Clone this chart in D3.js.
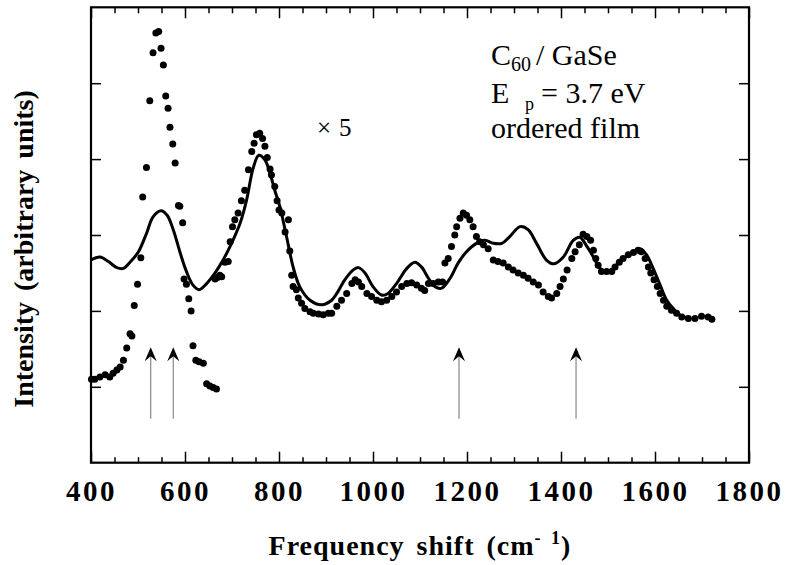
<!DOCTYPE html>
<html>
<head>
<meta charset="utf-8">
<script src="https://cdn.jsdelivr.net/npm/d3@7"></script>
<style>
  body { margin: 0; background: #fff; }
  svg text { font-family: "Liberation Serif", "Times New Roman", serif; fill: #000; }
</style>
</head>
<body>
<script>
// measured spectrum, strong mode near 540 (unscaled)
const peakShift = [401, 408, 419, 430, 440, 447, 455, 462, 469, 476, 483, 487, 492, 499, 506, 510,
  518, 525, 532, 538, 544, 549, 554, 559, 564, 568, 574, 579, 586, 589, 595, 598, 603, 608, 613,
  617, 623, 630, 639, 646, 653, 660, 667];
const peakInt = [1.10, 1.10, 1.13, 1.16, 1.13, 1.18, 1.22, 1.26, 1.35, 1.51, 1.70, 1.67, 2.07, 2.35,
  2.70, 3.50, 3.89, 4.77, 5.40, 5.66, 5.68, 5.46, 5.24, 4.83, 4.67, 4.42, 4.20, 3.95, 3.39, 3.38,
  3.16, 2.42, 2.35, 2.16, 2.00, 1.54, 1.35, 1.33, 1.31, 1.04, 1.01, 0.99, 0.97];

// measured spectrum, x5 part
const scaledShift = [664, 669, 674, 678, 685, 692, 696, 701, 706, 713, 720, 727, 735, 742, 747, 752,
  759, 765, 770, 775, 781, 784, 791, 796, 800, 806, 813, 820, 823, 827, 830, 837, 841, 848, 855,
  866, 873, 884, 894, 905, 912, 923, 933, 944, 955, 962, 969, 976, 987, 997, 1008, 1018, 1029,
  1040, 1050, 1061, 1072, 1082, 1093, 1103, 1110, 1118, 1128, 1139, 1148, 1153, 1160, 1167, 1174,
  1178, 1185, 1192, 1199, 1206, 1213, 1220, 1227, 1235, 1245, 1256, 1266, 1277, 1288, 1298, 1309,
  1320, 1330, 1341, 1352, 1362, 1373, 1380, 1391, 1398, 1405, 1413, 1423, 1430, 1439, 1447, 1455,
  1463, 1469, 1474, 1479, 1486, 1497, 1508, 1515, 1524, 1532, 1543, 1554, 1564, 1571, 1579, 1586,
  1591, 1598, 1605, 1611, 1618, 1625, 1635, 1646, 1657, 1671, 1685, 1699, 1713, 1721];
const scaledInt = [2.42, 2.44, 2.47, 2.45, 2.64, 2.65, 2.91, 3.11, 3.20, 3.29, 3.45, 3.59, 3.86, 4.10,
  4.21, 4.32, 4.34, 4.27, 4.17, 4.02, 3.87, 3.79, 3.64, 3.45, 3.33, 3.29, 3.04, 3.20, 2.79, 2.47,
  2.32, 2.28, 2.17, 2.10, 2.03, 1.99, 1.97, 1.96, 1.95, 1.97, 1.97, 2.06, 2.14, 2.23, 2.36, 2.41,
  2.38, 2.32, 2.23, 2.19, 2.14, 2.12, 2.14, 2.19, 2.25, 2.32, 2.36, 2.37, 2.34, 2.30, 2.27, 2.36,
  2.36, 2.38, 2.38, 2.63, 2.69, 2.85, 3.00, 3.11, 3.22, 3.29, 3.26, 3.20, 3.11, 2.98, 2.91, 2.87,
  2.82, 2.67, 2.65, 2.63, 2.58, 2.54, 2.50, 2.47, 2.43, 2.38, 2.34, 2.25, 2.19, 2.17, 2.23, 2.32,
  2.42, 2.54, 2.69, 2.78, 2.87, 3.01, 2.98, 2.93, 2.80, 2.69, 2.60, 2.52, 2.52, 2.52, 2.58, 2.64,
  2.69, 2.74, 2.77, 2.80, 2.78, 2.69, 2.58, 2.50, 2.41, 2.32, 2.23, 2.14, 2.06, 2.01, 1.97, 1.92,
  1.90, 1.90, 1.93, 1.92, 1.89];

// calculated spectrum (solid line)
const calcShift = [400, 419, 437, 455, 469, 483, 501, 518, 532, 549, 562, 575, 589, 603, 617, 630,
  646, 664, 681, 699, 717, 731, 745, 757, 770, 781, 791, 802, 816, 830, 844, 866, 891, 912, 923,
  940, 958, 969, 983, 1000, 1018, 1032, 1050, 1072, 1089, 1103, 1118, 1132, 1146, 1164, 1181, 1199,
  1220, 1238, 1256, 1274, 1291, 1313, 1330, 1348, 1369, 1385, 1405, 1426, 1440, 1455, 1469, 1483,
  1497, 1511, 1529, 1550, 1568, 1582, 1596, 1611, 1625, 1639, 1657, 1675];
const calcInt = [2.67, 2.71, 2.65, 2.57, 2.56, 2.64, 2.78, 3.02, 3.24, 3.32, 3.26, 3.07, 2.78, 2.52,
  2.34, 2.28, 2.36, 2.50, 2.67, 2.89, 3.15, 3.46, 3.88, 4.05, 3.99, 3.81, 3.59, 3.37, 2.98, 2.58,
  2.32, 2.14, 2.08, 2.14, 2.23, 2.41, 2.54, 2.57, 2.50, 2.32, 2.21, 2.23, 2.36, 2.56, 2.64, 2.58,
  2.43, 2.32, 2.30, 2.43, 2.63, 2.78, 2.89, 2.93, 2.89, 2.89, 2.98, 3.11, 3.07, 2.89, 2.67, 2.62,
  2.71, 2.93, 2.97, 2.85, 2.71, 2.56, 2.52, 2.56, 2.67, 2.76, 2.82, 2.74, 2.56, 2.34, 2.14, 2.03,
  1.93, 1.91];

const arrowShift = [527, 575, 1183, 1432];
const arrowTop = 1.52;
const arrowBottom = 0.58;

const xMajor = [400, 600, 800, 1000, 1200, 1400, 1600, 1800];
const yTicks = [1, 2, 3, 4, 5];

const W = 786, H = 565;
const mLeft = 91, mRight = 749, mTop = 7.3, mBottom = 462.7;

const x = d3.scaleLinear().domain([400, 1800]).range([mLeft, mRight]);
const y = d3.scaleLinear().domain([0, 6]).range([mBottom, mTop]);

const svg = d3.select("body").append("svg")
  .attr("width", W)
  .attr("height", H);

const xMinor = d3.range(400, 1801, 50).filter(v => !xMajor.includes(v));

// bottom axis: inward ticks, labels below
svg.append("g")
   .attr("transform", `translate(0,${mBottom})`)
   .call(d3.axisBottom(x).tickValues(xMinor).tickSize(-5.5).tickFormat(""))
   .call(g => g.select(".domain").remove());
svg.append("g")
   .attr("transform", `translate(0,${mBottom})`)
   .call(d3.axisBottom(x).tickValues(xMajor).tickSize(-11).tickPadding(18).tickFormat(d3.format("d")))
   .call(g => g.select(".domain").remove())
   .call(g => g.selectAll("text")
      .attr("font-size", 29)
      .attr("font-weight", "bold")
      .attr("letter-spacing", 2.5));

// top axis mirror
svg.append("g")
   .attr("transform", `translate(0,${mTop})`)
   .call(d3.axisTop(x).tickValues(xMinor).tickSize(-6).tickFormat(""))
   .call(g => g.select(".domain").remove());
svg.append("g")
   .attr("transform", `translate(0,${mTop})`)
   .call(d3.axisTop(x).tickValues(xMajor).tickSize(-11).tickFormat(""))
   .call(g => g.select(".domain").remove());

// left / right ticks
svg.append("g")
   .attr("transform", `translate(${mLeft},0)`)
   .call(d3.axisLeft(y).tickValues(yTicks).tickSize(-10).tickFormat(""))
   .call(g => g.select(".domain").remove());
svg.append("g")
   .attr("transform", `translate(${mRight},0)`)
   .call(d3.axisRight(y).tickValues(yTicks).tickSize(-10).tickFormat(""))
   .call(g => g.select(".domain").remove());

svg.selectAll(".tick line").attr("stroke", "#000").attr("stroke-width", 1.5);

svg.append("rect")
   .attr("x", mLeft).attr("y", mTop)
   .attr("width", mRight - mLeft).attr("height", mBottom - mTop)
   .attr("fill", "none").attr("stroke", "#000").attr("stroke-width", 2.2);

// arrows
arrowShift.forEach(v => {
  const ax = x(v), ty = y(arrowTop);
  svg.append("line")
     .attr("x1", ax).attr("x2", ax)
     .attr("y1", ty + 8).attr("y2", y(arrowBottom))
     .attr("stroke", "#888").attr("stroke-width", 1.2);
  svg.append("path")
     .attr("d", `M${ax},${ty} L${ax + 6},${ty + 14} L${ax},${ty + 9} L${ax - 6},${ty + 14} Z`)
     .attr("fill", "#000");
});

// calculated line
const line = d3.line()
  .x((d, i) => x(calcShift[i]))
  .y(d => y(d))
  .curve(d3.curveCatmullRom);

svg.append("path")
   .datum(calcInt)
   .attr("d", line)
   .attr("fill", "none")
   .attr("stroke", "#000")
   .attr("stroke-width", 3);

// measured dots
const dots = peakShift.map((v, i) => [v, peakInt[i]])
  .concat(scaledShift.map((v, i) => [v, scaledInt[i]]));

svg.selectAll("circle")
   .data(dots)
   .enter()
   .append("circle")
   .attr("cx", d => x(d[0]))
   .attr("cy", d => y(d[1]))
   .attr("r", 3.5)
   .attr("fill", "#000");

// annotations
const note = svg.append("g").attr("font-size", 30);
note.append("text").attr("x", 491).attr("y", 65).text("C");
note.append("text").attr("x", 511).attr("y", 71).attr("font-size", 20).text("60");
note.append("text").attr("x", 536).attr("y", 65).text("/ GaSe");
note.append("text").attr("x", 491).attr("y", 103).text("E");
note.append("text").attr("x", 525).attr("y", 110).attr("font-size", 18).text("p");
note.append("text").attr("x", 541).attr("y", 103).text("= 3.7 eV");
note.append("text").attr("x", 491).attr("y", 138).text("ordered film");

svg.append("text").attr("x", 317).attr("y", 136).attr("font-size", 25).text("×");
svg.append("text").attr("x", 339).attr("y", 136).attr("font-size", 25).text("5");

// axis titles
const xt = svg.append("text")
   .attr("x", (mLeft + mRight) / 2).attr("y", 555)
   .attr("text-anchor", "middle")
   .attr("font-size", 28).attr("font-weight", "bold")
   .attr("letter-spacing", 1).attr("word-spacing", 4);
xt.append("tspan").text("Frequency shift (cm");
xt.append("tspan").attr("font-size", 18).attr("dy", -11).text("- 1");
xt.append("tspan").attr("dy", 11).text(")");

svg.append("text")
   .attr("transform", `translate(33,249) rotate(-90)`)
   .attr("text-anchor", "middle")
   .attr("font-size", 28).attr("font-weight", "bold")
   .attr("word-spacing", 4)
   .text("Intensity (arbitrary units)");
</script>
</body>
</html>
